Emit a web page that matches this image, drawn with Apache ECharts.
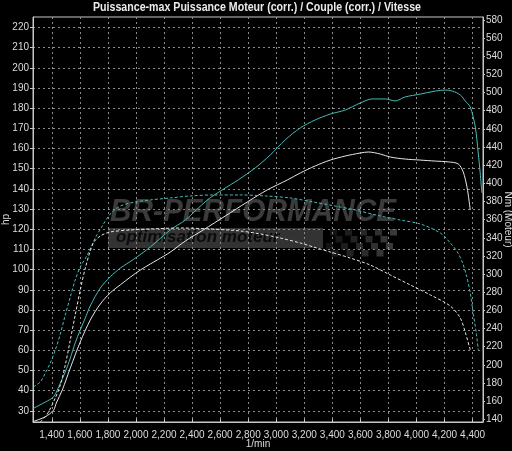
<!DOCTYPE html>
<html><head><meta charset="utf-8">
<script src="https://cdn.jsdelivr.net/npm/echarts@6/dist/echarts.min.js"></script>
<style>html,body{margin:0;padding:0;background:#000;overflow:hidden;}#c{width:512px;height:451px;}</style>
</head><body><div id="c"></div>
<script>
const titleText = 'Puissance-max Puissance Moteur (corr.) / Couple (corr.) / Vitesse';
const xTicks = [1400,1600,1800,2000,2200,2400,2600,2800,3000,3200,3400,3600,3800,4000,4200,4400];
const hpTicks = [30,40,50,60,70,80,90,100,110,120,130,140,150,160,170,180,190,200,210,220];
const nmTicks = [140,160,180,200,220,240,260,280,300,320,340,360,380,400,420,440,460,480,500,520,540,560,580];

const cyanPowerRpm = [1270,1354,1413,1461,1496,1532,1567,1603,1639,1674,1746,1817,1889,1981,2102,2245,2352,2508,2615,2729,2850,2957,3064,3171,3278,3385,3492,3599,3684,3777,3848,3920,4027,4134,4205,4255,4312,4347,4383,4419,4440,4454,4466];
const cyanPowerHp = [31.3,34.4,37.0,43.8,49.3,56.2,63.7,70.1,76.1,82.0,90.9,96.5,100.8,105.0,111.2,119.7,124.6,134.5,139.5,144.5,150.4,156.8,164.3,170.2,174.2,177.1,179.1,182.6,184.6,184.6,183.6,185.6,187.0,188.5,189.0,188.5,186.6,183.6,180.6,170.7,157.8,147.9,138.0];

const whitePowerRpm = [1266,1354,1413,1432,1475,1532,1603,1674,1746,1817,1889,1960,2031,2102,2152,2245,2352,2480,2637,2793,2936,3078,3171,3278,3385,3492,3599,3656,3742,3813,3920,4027,4134,4226,4297,4333,4361,4383];
const whitePowerHp = [24.7,27.1,30.4,33.9,40.4,51.3,64.2,75.0,83.0,88.5,92.5,96.3,99.8,102.8,104.8,108.7,114.2,119.7,126.6,133.5,139.5,144.4,147.9,151.4,154.3,156.3,157.8,158.3,157.3,155.8,154.8,154.3,153.8,153.4,152.4,148.4,140.5,129.6];

const cyanTorqueRpm = [1268,1318,1354,1389,1425,1461,1496,1532,1567,1603,1653,1710,1760,1817,1889,1995,2102,2245,2387,2551,2744,2922,3100,3264,3421,3564,3742,3884,4027,4170,4241,4291,4326,4355,4383,4404,4426,4440];
const cyanTorqueNm = [175.6,181.1,191.0,202.0,216.4,234.0,254.9,274.8,293.5,307.8,321.0,339.8,353.0,366.2,375.0,379.4,381.7,383.9,386.1,387.2,387.2,386.1,383.9,379.4,375.0,370.6,364.0,359.6,355.2,345.3,334.3,324.4,313.3,299.0,279.2,257.1,235.1,216.4];

const whiteTorqueRpm = [1318,1368,1425,1461,1496,1532,1567,1603,1639,1696,1746,1817,1960,2102,2316,2530,2744,2886,3028,3171,3264,3385,3528,3670,3813,3956,4099,4241,4312,4347,4383];
const whiteTorqueNm = [137.0,145.8,163.5,177.8,199.8,227.4,254.9,282.5,306.7,334.3,342.0,346.4,348.6,349.7,350.8,349.7,347.5,344.2,339.8,334.3,329.9,324.4,317.7,310.0,299.0,288.0,277.0,264.8,251.6,236.2,216.4];

const zip = (a, b) => a.map((v, i) => [v, b[i]]);
const FONT = '"Liberation Sans", Arial, sans-serif';
const CYAN = '#45bdb9';
const WHITE = '#e6e6e6';
const GRIDC = '#8a8a8a';
const AXC = '#c8c8c8';
const LBL = '#dcdcdc';

const chart = echarts.init(document.getElementById('c'), null, {renderer: 'canvas'});

const checker = [];
for (let r = 0; r < 4; r++) {
  for (let c = 0; c < 9; c++) {
    if ((r + c) % 2 === 0) {
      checker.push({type: 'rect', z: -10, silent: true,
        shape: {x: 330 + c * 7.5 - r * 2, y: 229 + r * 7, width: 7, height: 6.5},
        style: {fill: '#3a3a3a', opacity: 0.35 + 0.08 * c}});
    }
  }
}

chart.setOption({
  backgroundColor: '#000',
  animation: false,
  graphic: {elements: [
    {type: 'text', silent: true, x: 257, y: 2, scaleX: 0.885,
      style: {text: titleText, fill: '#eaeaea', align: 'center', font: 'bold 12px "Liberation Sans", Arial, sans-serif'}},
    {type: 'text', z: -10, silent: true, x: 110, y: 196, scaleX: 0.93,
      style: {text: 'BR-PERFORMANCE', fill: '#3b3b3b', font: 'italic bold 32px "Liberation Sans", sans-serif'}},
    {type: 'rect', z: -10, silent: true, shape: {x: 108, y: 228, width: 215, height: 20},
      style: {fill: '#333333'}},
    {type: 'text', z: -9, silent: true, x: 116, y: 229,
      style: {text: 'optimisation moteur', fill: '#0b0b0b', font: 'italic bold 17px "Liberation Sans", sans-serif'}}
  ].concat(checker)},
  grid: {left: 33, right: 29, top: 17, bottom: 29, show: true, borderColor: AXC, borderWidth: 1,
    outerBoundsMode: 'none', containLabel: false},
  xAxis: {
    type: 'value', min: 1266, max: 4474,
    name: '1/min', nameLocation: 'middle', nameGap: 17, nameMoveOverlap: false,
    nameTextStyle: {color: LBL, fontSize: 10, fontFamily: FONT},
    axisLine: {show: true, lineStyle: {color: AXC}},
    axisTick: {show: true, customValues: xTicks, length: 3, inside: true, lineStyle: {color: AXC}},
    axisLabel: {customValues: xTicks, color: LBL, fontSize: 10, fontFamily: FONT, margin: 8,
      showMinLabel: true, showMaxLabel: true, hideOverlap: false,
      formatter: v => Number(v).toLocaleString('en-US')},
    splitLine: {show: true, lineStyle: {color: GRIDC, type: [2, 3], width: 1}}
  },
  yAxis: [{
    type: 'value', min: 24.5, max: 225.2, position: 'left',
    name: 'hp', nameLocation: 'middle', nameGap: 22, nameRotate: 90, nameMoveOverlap: false,
    nameTextStyle: {color: LBL, fontSize: 10, fontFamily: FONT},
    axisLine: {show: true, lineStyle: {color: AXC}},
    axisTick: {show: true, customValues: hpTicks, length: 3, lineStyle: {color: AXC}},
    axisLabel: {customValues: hpTicks, color: LBL, fontSize: 10, fontFamily: FONT, margin: 4,
      showMinLabel: true, showMaxLabel: true},
    splitLine: {show: true, lineStyle: {color: GRIDC, type: [2, 3], width: 1}}
  }, {
    type: 'value', min: 137, max: 583.3, position: 'right',
    name: 'Nm (Moteur)', nameLocation: 'middle', nameGap: 20, nameRotate: -90, nameMoveOverlap: false,
    nameTextStyle: {color: LBL, fontSize: 10, fontFamily: FONT},
    axisLine: {show: true, lineStyle: {color: AXC}},
    axisTick: {show: true, customValues: nmTicks, length: 2, lineStyle: {color: AXC}},
    axisLabel: {customValues: nmTicks, color: LBL, fontSize: 10, fontFamily: FONT, margin: 3,
      showMinLabel: true, showMaxLabel: true},
    splitLine: {show: false}
  }],
  series: [
    {name: 'Puissance-max', type: 'line', yAxisIndex: 0, showSymbol: false, smooth: 0.3,
      data: zip(cyanPowerRpm, cyanPowerHp), lineStyle: {color: CYAN, width: 1}},
    {name: 'Puissance Moteur (corr.)', type: 'line', yAxisIndex: 0, showSymbol: false, smooth: 0.3,
      data: zip(whitePowerRpm, whitePowerHp), lineStyle: {color: WHITE, width: 1}},
    {name: 'Couple (corr.) max', type: 'line', yAxisIndex: 1, showSymbol: false, smooth: 0.3,
      data: zip(cyanTorqueRpm, cyanTorqueNm), lineStyle: {color: CYAN, width: 1, type: [3, 2]}},
    {name: 'Couple (corr.)', type: 'line', yAxisIndex: 1, showSymbol: false, smooth: 0.3,
      data: zip(whiteTorqueRpm, whiteTorqueNm), lineStyle: {color: WHITE, width: 1, type: [3, 2]}}
  ]
});
</script></body></html>
